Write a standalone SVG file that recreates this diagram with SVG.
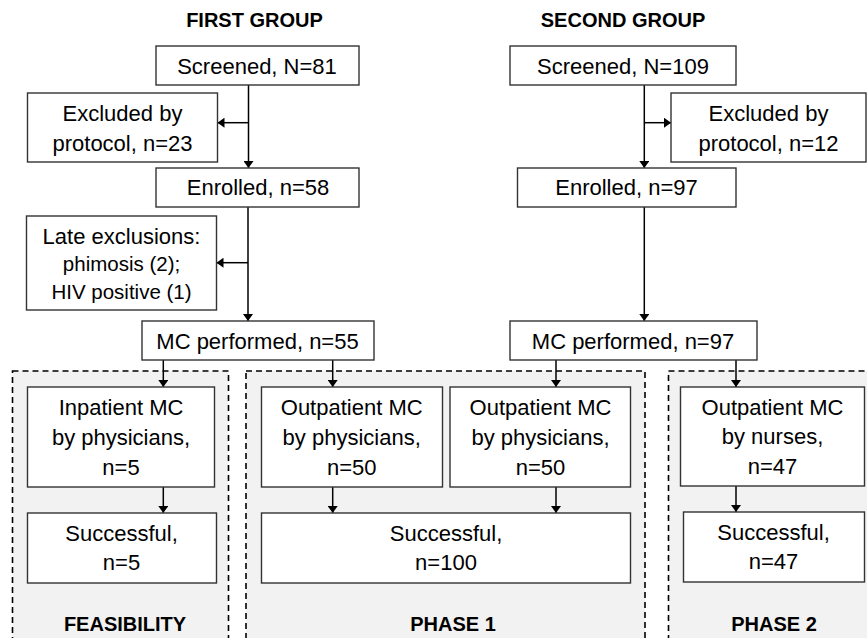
<svg xmlns="http://www.w3.org/2000/svg" width="867" height="638" viewBox="0 0 867 638">
<style>
  .box { fill: #ffffff; stroke: #333333; stroke-width: 1.4; }
  .region { fill: #f2f2f2; stroke: #000000; stroke-width: 1.6; stroke-dasharray: 6 4; }
  .t { font-family: "Liberation Sans", Arial, sans-serif; font-size: 22px; fill: #000; text-anchor: middle; }
  .s { font-family: "Liberation Sans", Arial, sans-serif; font-size: 20.5px; fill: #000; text-anchor: middle; }
  .h { font-family: "Liberation Sans", Arial, sans-serif; font-size: 20px; font-weight: bold; fill: #000; text-anchor: middle; }
  .c { fill: none; stroke: #000; stroke-width: 1.5; marker-end: url(#arr); }
</style>
<defs>
  <marker id="arr" markerUnits="userSpaceOnUse" markerWidth="10" markerHeight="10" refX="7" refY="5" orient="auto">
    <path d="M0,0 L7,5 L0,10 Z" fill="#000"/>
  </marker>
</defs>
<rect width="867" height="638" fill="#ffffff"/>

<g id="regions">
  <rect id="feasibility-region" class="region" x="12.5" y="371" width="216" height="290"/>
  <rect id="phase1-region" class="region" x="246" y="371" width="399" height="290"/>
  <rect id="phase2-region" class="region" x="668.5" y="371" width="220" height="290"/>
</g>

<g id="headers">
  <text class="h" x="254.5" y="27">FIRST GROUP</text>
  <text class="h" x="623" y="27">SECOND GROUP</text>
</g>

<g id="connectors">
  <line class="c" x1="248.5" y1="85" x2="248.5" y2="168"/>
  <line class="c" x1="248.5" y1="122.7" x2="217.5" y2="122.7"/>
  <line class="c" x1="248" y1="207" x2="248" y2="321"/>
  <line class="c" x1="248" y1="262.7" x2="216.5" y2="262.7"/>
  <line class="c" x1="644.3" y1="85" x2="644.3" y2="168"/>
  <line class="c" x1="644.3" y1="122.7" x2="671" y2="122.7"/>
  <line class="c" x1="644.3" y1="207" x2="644.3" y2="321"/>
  <line class="c" x1="163.3" y1="360" x2="163.3" y2="387"/>
  <line class="c" x1="332.7" y1="360" x2="332.7" y2="387"/>
  <line class="c" x1="556" y1="360" x2="556" y2="387"/>
  <line class="c" x1="736" y1="360" x2="736" y2="387"/>
  <line class="c" x1="163.3" y1="487" x2="163.3" y2="513"/>
  <line class="c" x1="332.7" y1="487" x2="332.7" y2="513"/>
  <line class="c" x1="556" y1="487" x2="556" y2="513"/>
  <line class="c" x1="736" y1="486" x2="736" y2="512"/>
</g>

<g id="screened1">
  <rect class="box" x="156" y="46" width="203" height="39"/>
  <text class="t" x="257" y="73.5">Screened, N=81</text>
</g>
<g id="excluded1">
  <rect class="box" x="27.5" y="93" width="190" height="69"/>
  <text class="t" x="122.5" y="121">Excluded by</text>
  <text class="t" x="122.5" y="151">protocol, n=23</text>
</g>
<g id="enrolled1">
  <rect class="box" x="156" y="168" width="203" height="39"/>
  <text class="t" x="258" y="195">Enrolled, n=58</text>
</g>
<g id="late-exclusions">
  <rect class="box" x="26.5" y="216" width="190" height="94"/>
  <text class="t" x="121.5" y="244">Late exclusions:</text>
  <text class="s" x="121.5" y="270.5">phimosis (2);</text>
  <text class="s" x="121.5" y="299">HIV positive (1)</text>
</g>
<g id="mc1">
  <rect class="box" x="142" y="321" width="232" height="39"/>
  <text class="t" x="257.5" y="349">MC performed, n=55</text>
</g>

<g id="screened2">
  <rect class="box" x="510" y="46" width="226" height="39"/>
  <text class="t" x="623" y="73.5">Screened, N=109</text>
</g>
<g id="excluded2">
  <rect class="box" x="671" y="93" width="195" height="69"/>
  <text class="t" x="768.5" y="121">Excluded by</text>
  <text class="t" x="768.5" y="151">protocol, n=12</text>
</g>
<g id="enrolled2">
  <rect class="box" x="517.5" y="168" width="218.5" height="39"/>
  <text class="t" x="626.5" y="195">Enrolled, n=97</text>
</g>
<g id="mc2">
  <rect class="box" x="510" y="321" width="247" height="39"/>
  <text class="t" x="633" y="349">MC performed, n=97</text>
</g>

<g id="inpatient">
  <rect class="box" x="27.5" y="387" width="187" height="100"/>
  <text class="t" x="121" y="415">Inpatient MC</text>
  <text class="t" x="121" y="445">by physicians,</text>
  <text class="t" x="121" y="475">n=5</text>
</g>
<g id="successful1">
  <rect class="box" x="27.5" y="513" width="189" height="70"/>
  <text class="t" x="121.5" y="540.5">Successful,</text>
  <text class="t" x="121.5" y="570">n=5</text>
</g>
<g id="outpatient1">
  <rect class="box" x="261.5" y="387" width="181" height="100"/>
  <text class="t" x="351.7" y="415">Outpatient MC</text>
  <text class="t" x="351.7" y="445">by physicians,</text>
  <text class="t" x="351.7" y="475">n=50</text>
</g>
<g id="outpatient2">
  <rect class="box" x="450" y="387" width="180.5" height="100"/>
  <text class="t" x="540.5" y="415">Outpatient MC</text>
  <text class="t" x="540.5" y="445">by physicians,</text>
  <text class="t" x="540.5" y="475">n=50</text>
</g>
<g id="successful100">
  <rect class="box" x="261.5" y="513" width="369" height="70"/>
  <text class="t" x="446" y="540.5">Successful,</text>
  <text class="t" x="446" y="570">n=100</text>
</g>
<g id="nurses">
  <rect class="box" x="680.5" y="387" width="184" height="99"/>
  <text class="t" x="772.5" y="414.5">Outpatient MC</text>
  <text class="t" x="772.5" y="444">by nurses,</text>
  <text class="t" x="772.5" y="474">n=47</text>
</g>
<g id="successful47">
  <rect class="box" x="683.5" y="512" width="181" height="70"/>
  <text class="t" x="773.5" y="540">Successful,</text>
  <text class="t" x="773.5" y="569">n=47</text>
</g>

<g id="labels">
  <text class="h" x="125" y="630.5">FEASIBILITY</text>
  <text class="h" x="453" y="630.5">PHASE 1</text>
  <text class="h" x="774" y="630.5">PHASE 2</text>
</g>
</svg>
